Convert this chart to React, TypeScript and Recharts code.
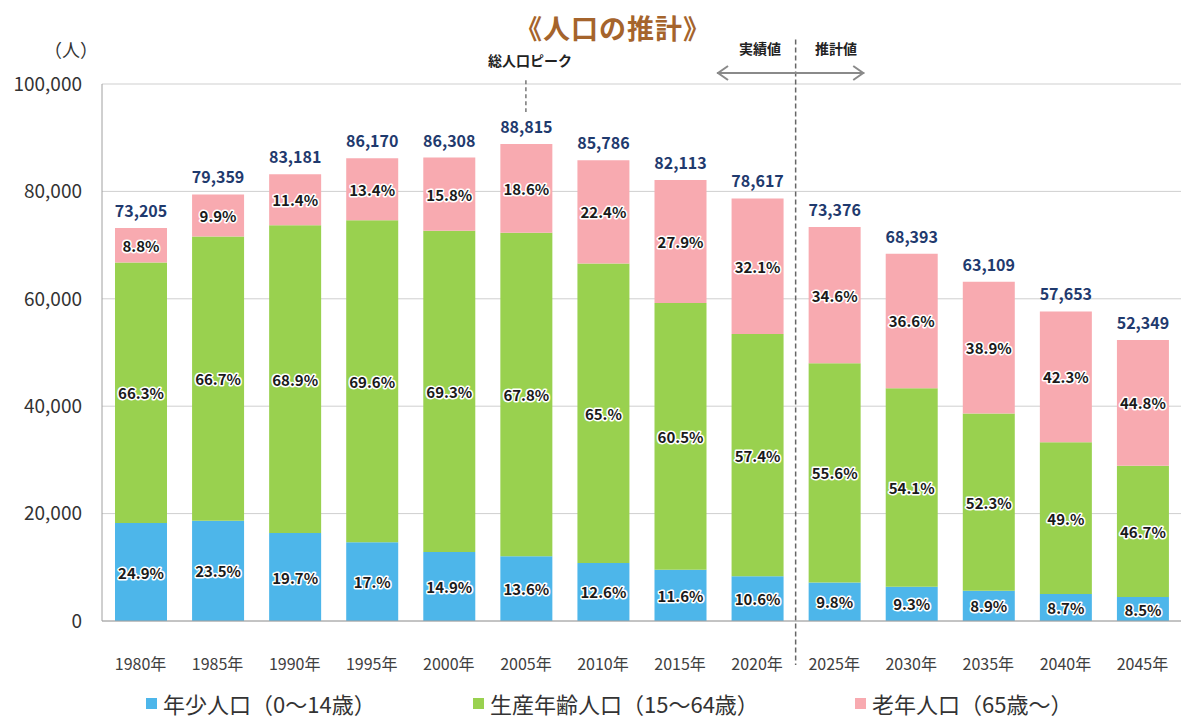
import React from 'react';
import { BarChart, Bar, XAxis, YAxis, CartesianGrid, LabelList, ReferenceLine } from 'recharts';

const categories = ['1980年', '1985年', '1990年', '1995年', '2000年', '2005年', '2010年', '2015年', '2020年', '2025年', '2030年', '2035年', '2040年', '2045年'];
const totals = [73205, 79359, 83181, 86170, 86308, 88815, 85786, 82113, 78617, 73376, 68393, 63109, 57653, 52349];
const youngValues = [18228, 18649, 16387, 14649, 12860, 12079, 10809, 9525, 8333, 7191, 6361, 5617, 5016, 4450];
const workingValues = [48535, 52932, 57312, 59974, 59811, 60217, 55761, 49678, 45126, 40797, 37001, 33006, 28250, 24447];
const oldValues = [6442, 7857, 9483, 11547, 13637, 16520, 19216, 22910, 25236, 25388, 25032, 24549, 24387, 23452];
const youngLabels = ['24.9%', '23.5%', '19.7%', '17.%', '14.9%', '13.6%', '12.6%', '11.6%', '10.6%', '9.8%', '9.3%', '8.9%', '8.7%', '8.5%'];
const workingLabels = ['66.3%', '66.7%', '68.9%', '69.6%', '69.3%', '67.8%', '65.%', '60.5%', '57.4%', '55.6%', '54.1%', '52.3%', '49.%', '46.7%'];
const oldLabels = ['8.8%', '9.9%', '11.4%', '13.4%', '15.8%', '18.6%', '22.4%', '27.9%', '32.1%', '34.6%', '36.6%', '38.9%', '42.3%', '44.8%'];
const yTicks = [0, 20000, 40000, 60000, 80000, 100000];

const seriesNames = ['年少人口（0～14歳）', '生産年齢人口（15～64歳）', '老年人口（65歳～）'];
const colors = { young: '#4db6ea', working: '#99d14f', old: '#f8aab0' };

const data = categories.map((name, i) => ({
  name,
  idx: i,
  young: youngValues[i],
  working: workingValues[i],
  old: oldValues[i],
  total: totals[i],
  yl: youngLabels[i],
  wl: workingLabels[i],
  ol: oldLabels[i],
}));

const FONT = '"Noto Sans CJK JP", "Noto Sans", sans-serif';

const PctLabel = (props: any) => {
  const vb = props.viewBox || {};
  const x = props.x ?? vb.x;
  const y = props.y ?? vb.y;
  const width = props.width ?? vb.width;
  const height = props.height ?? vb.height;
  return (
    <text
      x={x + width / 2}
      y={y + height / 2}
      textAnchor="middle"
      dominantBaseline="central"
      fontSize={15}
      fontWeight="bold"
      fill="#1a1a1a"
      stroke="#ffffff"
      strokeWidth={3}
      strokeLinejoin="round"
      paintOrder="stroke"
      fontFamily={FONT}
    >
      {props.value}
    </text>
  );
};

const TotalLabel = (props: any) => {
  const vb = props.viewBox || {};
  const x = props.x ?? vb.x;
  const y = props.y ?? vb.y;
  const width = props.width ?? vb.width;
  return (
    <text
      x={x + width / 2}
      y={y - 11}
      textAnchor="middle"
      fontSize={16}
      fontWeight="bold"
      fill="#1f3a6e"
      fontFamily={FONT}
    >
      {Number(props.value).toLocaleString('en-US')}
    </text>
  );
};

const ArrowShape = (props: any) => {
  const { x1, y1, x2, y2 } = props;
  const s = '#8a8a8a';
  return (
    <g>
      <line x1={x1} y1={y1} x2={x2} y2={y2} stroke={s} strokeWidth={2} />
      <polyline points={`${x1 + 11},${y1 - 7} ${x1 + 1},${y1} ${x1 + 11},${y1 + 7}`} fill="none" stroke={s} strokeWidth={2} />
      <polyline points={`${x2 - 11},${y2 - 7} ${x2 - 1},${y2} ${x2 - 11},${y2 + 7}`} fill="none" stroke={s} strokeWidth={2} />
    </g>
  );
};

const legendColors = [colors.young, colors.working, colors.old];
const legendLefts = [146, 473, 855];

export default function App() {
  return (
    <div style={{ position: 'absolute', left: 0, top: 0, width: 1184, height: 722, background: '#fff', fontFamily: FONT, overflow: 'hidden' }}>
      <BarChart
        width={1184}
        height={722}
        data={data}
        margin={{ top: 84, right: 3, bottom: 41, left: 0 }}
        barSize={52}
      >
        <CartesianGrid vertical={false} stroke="#cfcfcf" />
        <XAxis
          dataKey="name"
          tickLine={false}
          tickSize={0}
          tickMargin={38}
          height={60}
          axisLine={{ stroke: '#a0a0a0' }}
          tick={{ fill: '#404040', fontSize: 16 }}
          interval={0}
        />
        <XAxis xAxisId="num" type="number" dataKey="idx" domain={[-0.5, 13.5]} hide />
        <YAxis
          width={102}
          domain={[0, 100000]}
          ticks={yTicks}
          tickLine={false}
          tickSize={0}
          tickMargin={20}
          axisLine={{ stroke: '#a0a0a0' }}
          tick={{ fill: '#333', fontSize: 19 }}
          tickFormatter={(v: number) => v.toLocaleString('en-US')}
        />
        <Bar dataKey="young" stackId="a" fill={colors.young} isAnimationActive={false}>
          <LabelList dataKey="yl" content={PctLabel} />
        </Bar>
        <Bar dataKey="working" stackId="a" fill={colors.working} isAnimationActive={false}>
          <LabelList dataKey="wl" content={PctLabel} />
        </Bar>
        <Bar dataKey="old" stackId="a" fill={colors.old} isAnimationActive={false}>
          <LabelList dataKey="ol" content={PctLabel} />
          <LabelList dataKey="total" content={TotalLabel} />
        </Bar>
        <ReferenceLine
          xAxisId="num"
          ifOverflow="visible"
          segment={[{ x: 8.5, y: 108300 }, { x: 8.5, y: -8200 }]}
          stroke="#666"
          strokeWidth={1.5}
          strokeDasharray="5 3"
        />
        <ReferenceLine
          xAxisId="num"
          ifOverflow="visible"
          segment={[{ x: 5, y: 100700 }, { x: 5, y: 94800 }]}
          stroke="#777"
          strokeWidth={1.5}
          strokeDasharray="4 3"
        />
        <ReferenceLine
          xAxisId="num"
          ifOverflow="visible"
          segment={[{ x: 7.48, y: 102050 }, { x: 9.39, y: 102050 }]}
          shape={ArrowShape}
        />
      </BarChart>

      <div style={{ position: 'absolute', left: 0, width: 1184, top: 8, textAlign: 'center', paddingLeft: 42, boxSizing: 'border-box', fontSize: 27, fontWeight: 'bold', color: '#a5642c', letterSpacing: 1 }}>
        《人口の推計》
      </div>
      <div style={{ position: 'absolute', left: 44, top: 36, fontSize: 18, color: '#333' }}>（人）</div>
      <div style={{ position: 'absolute', left: 470, width: 120, top: 50, textAlign: 'center', fontSize: 14, fontWeight: 'bold', color: '#222' }}>総人口ピーク</div>
      <div style={{ position: 'absolute', left: 730, width: 60, top: 38, textAlign: 'center', fontSize: 14, fontWeight: 'bold', color: '#222' }}>実績値</div>
      <div style={{ position: 'absolute', left: 806, width: 60, top: 38, textAlign: 'center', fontSize: 14, fontWeight: 'bold', color: '#222' }}>推計値</div>

      {seriesNames.map((n, i) => (
        <div key={n} style={{ position: 'absolute', left: legendLefts[i], top: 689, display: 'flex', alignItems: 'center', fontSize: 22, color: '#333', lineHeight: '28px', whiteSpace: 'nowrap' }}>
          <span style={{ display: 'inline-block', width: 11, height: 11, background: legendColors[i], marginRight: 6 }} />
          {n}
        </div>
      ))}
    </div>
  );
}
